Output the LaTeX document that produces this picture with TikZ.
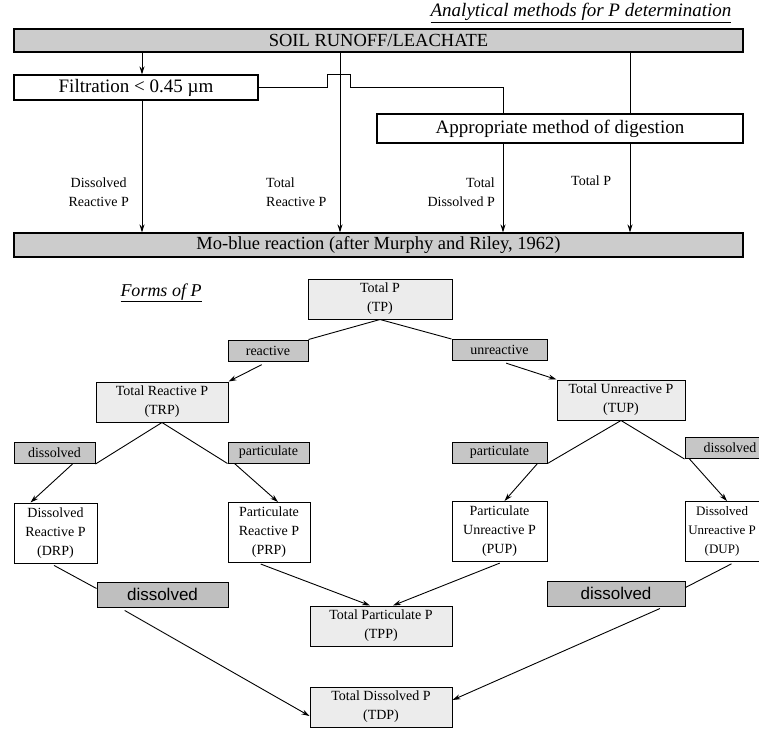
\documentclass[tikz,border=0pt]{standalone}
\usepackage{fontspec}
\setmainfont{Liberation Serif}
\newfontfamily\arialfont{Liberation Sans}
\usetikzlibrary{arrows.meta}

\begin{document}
\begin{tikzpicture}[x=1pt, y=-1pt, >={Stealth[length=8pt,width=5pt]},
  bar/.style={draw, line width=1.1pt, fill=gray!40, inner sep=0pt, font=\fontsize{18.5}{22}\selectfont},
  plainbox/.style={draw, line width=1.1pt, fill=white, inner sep=0pt, font=\fontsize{19}{22}\selectfont},
  formbox/.style={draw, line width=1pt, fill=gray!15, inner sep=0pt, align=center, minimum height=40pt, font=\fontsize{14}{19}\selectfont},
  subbox/.style={formbox, fill=white, minimum height=60pt},
  tag/.style={draw, line width=1pt, fill=gray!45, inner sep=0pt, minimum height=21pt, font=\fontsize{14}{16}\selectfont},
  bigtag/.style={tag, fill=gray!50, minimum height=25pt, font=\arialfont\fontsize{17}{20}\selectfont},
  method/.style={inner sep=0pt, align=center, font=\fontsize{14}{19}\selectfont},
  link/.style={line width=0.9pt}]
\useasboundingbox (0,0) rectangle (759,733);

\node (title) at (581,13) {\fontsize{19}{22}\selectfont\itshape\underline{Analytical methods for P determination}};
\node[bar, minimum width=729pt, minimum height=23pt] (soil) at (378.5,40.5) {SOIL RUNOFF/LEACHATE};
\node[plainbox, minimum width=244pt, minimum height=25pt] (filt) at (136,87.5) {Filtration < 0.45 µm};
\node[plainbox, minimum width=366pt, minimum height=29pt] (dig) at (560,128.5) {Appropriate method of digestion};
\node[bar, minimum width=729pt, minimum height=24pt] (moblue) at (378.5,245) {Mo-blue reaction (after Murphy and Riley, 1962)};

\coordinate (col1) at (142,0);
\coordinate (col2) at (340,0);
\coordinate (col3) at (503,0);
\coordinate (col4) at (630,0);

\draw[link,->] (soil.south -| col1) -- (filt.north -| col1);
\draw[link,->] (filt.south -| col1) -- (moblue.north -| col1);
\draw[link,->] (soil.south -| col2) -- (moblue.north -| col2);
\draw[link] (filt.east) -- ++(69,0) -- ++(0,-13) -- ++(23,0) -- ++(0,13) -| (dig.north -| col3);
\draw[link,->] (dig.south -| col3) -- (moblue.north -| col3);
\draw[link] (soil.south -| col4) -- (dig.north -| col4);
\draw[link,->] (dig.south -| col4) -- (moblue.north -| col4);

\node[method, anchor=east] (drplbl) at (129,192) {Dissolved\\Reactive P};
\node[method, anchor=west, align=left] (trplbl) at (266,192) {Total\\Reactive P};
\node[method, anchor=east, align=right] (tdplbl) at (495,192) {Total\\Dissolved P};
\node[method, anchor=west] (tplbl) at (571,181) {Total P};

\node (forms) at (161,293) {\fontsize{18}{20}\selectfont\itshape\underline{Forms of P}};

\node[formbox, minimum width=144pt] (tp) at (380,299) {Total P\\(TP)};
\node[formbox, minimum width=132pt] (trp) at (162,402) {Total Reactive P\\(TRP)};
\node[formbox, minimum width=128pt] (tup) at (621,400) {Total Unreactive P\\(TUP)};
\node[subbox, minimum width=83pt] (drp) at (55.5,533) {Dissolved\\Reactive P\\(DRP)};
\node[subbox, minimum width=82pt] (prp) at (269,532.5) {Particulate\\Reactive P\\(PRP)};
\node[subbox, minimum width=95pt] (pup) at (499.5,531.5) {Particulate\\Unreactive P\\(PUP)};
\node[subbox, minimum width=74pt, font=\fontsize{13}{19}\selectfont] (dup) at (722,531.5) {Dissolved\\Unreactive P\\(DUP)};
\node[formbox, minimum width=142pt] (tpp) at (381,626) {Total Particulate P\\(TPP)};
\node[formbox, minimum width=142pt] (tdp) at (381,707) {Total Dissolved P\\(TDP)};

\node[tag, minimum width=80pt] (reac) at (268,350.5) {reactive};
\node[tag, minimum width=95pt] (unreac) at (499.5,350) {unreactive};
\node[tag, minimum width=81pt] (disl) at (54.5,453) {dissolved};
\node[tag, minimum width=81pt] (partl) at (268.5,452.5) {particulate};
\node[tag, minimum width=95pt] (partr) at (499.5,452.5) {particulate};
\node[tag, minimum width=90pt] (disr) at (730,448) {dissolved};
\node[bigtag, minimum width=131pt] (bigdl) at (162.5,594.5) {dissolved};
\node[bigtag, minimum width=138pt] (bigdr) at (616,593.5) {dissolved};

\draw[link] (tp.south) -- (reac.north east);
\draw[link,->,shorten <=7pt] (reac.south) -- (trp.north east);
\draw[link] (tp.south) -- (unreac.north west);
\draw[link,->,shorten <=7pt] (unreac.south) -- (tup.north west);
\draw[link] (trp.south) -- (disl.south east);
\draw[link] (trp.south) -- (partl.south west);
\draw[link,->] ([xshift=18pt]disl.south) -- ([xshift=-25pt]drp.north);
\draw[link,->] ([xshift=7pt]partl.south west) -- ([xshift=9pt]prp.north);
\draw[link] (tup.south) -- (partr.south east);
\draw[link] (tup.south) -- (disr.south west);
\draw[link,->] ([xshift=-10pt]partr.south east) -- ([xshift=5pt]pup.north);
\draw[link,->] ([xshift=5pt]disr.south west) -- ([xshift=5pt]dup.north);

\draw[link,shorten <=4pt] ([xshift=-5pt]drp.south) -- ([yshift=6pt]bigdl.west);
\draw[link,->,shorten <=6pt] ([xshift=23pt]bigdl.south west) -- ([yshift=-9pt]tdp.west);
\draw[link,->,shorten <=3pt] ([xshift=-11pt]prp.south) -- ([xshift=-11pt]tpp.north);
\draw[link,->,shorten <=3pt] ([xshift=3pt]pup.south) -- ([xshift=12pt]tpp.north);
\draw[link,shorten <=4pt] ([xshift=13pt]dup.south) -- ([yshift=6pt]bigdr.east);
\draw[link,->,shorten <=5pt] ([xshift=-21pt]bigdr.south east) -- ([yshift=7pt]tdp.east);

\end{tikzpicture}
\end{document}
